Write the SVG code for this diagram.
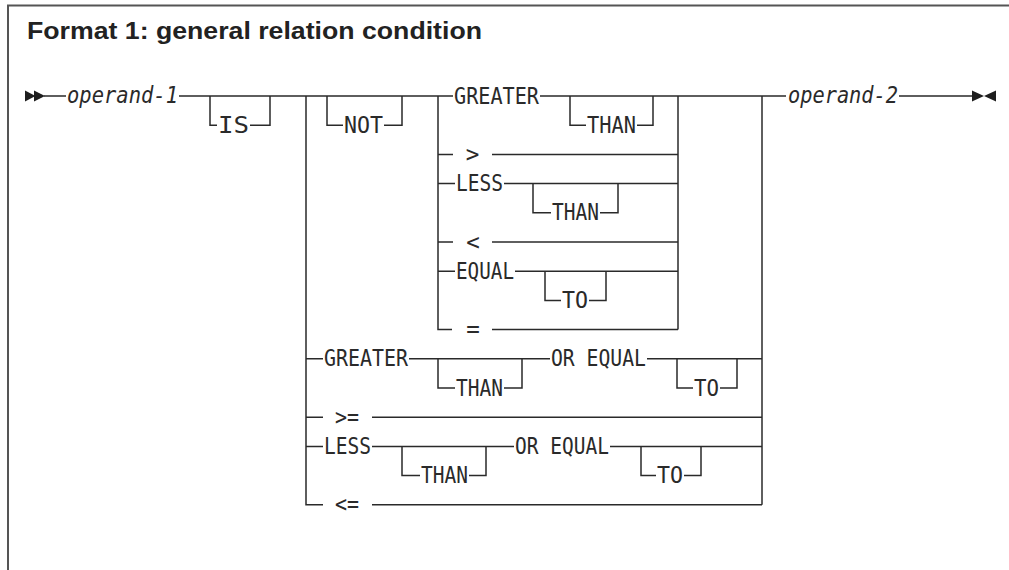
<svg xmlns="http://www.w3.org/2000/svg" width="1009" height="570" viewBox="0 0 1009 570">
<style>
.frame{fill:none;stroke:#555;stroke-width:2}
.ln{fill:none;stroke:#2a2a2a;stroke-width:1.5;stroke-linecap:butt;stroke-linejoin:miter}
.t{font-family:"DejaVu Sans Mono","Liberation Mono",monospace;font-size:22.5px;fill:#2a2a2a}
.it{font-style:italic}
.sym{text-anchor:middle}
.title{font-family:"Liberation Sans",Arial,sans-serif;font-weight:bold;font-size:23.5px;fill:#222}
.arr{fill:#1e1e1e}
</style>
<rect x="0" y="0" width="1009" height="570" fill="#fff"/>
<path class="frame" d="M8 570 V5.5 H1009"/>
<text class="title" x="27" y="39.3" textLength="455" lengthAdjust="spacingAndGlyphs">Format 1: general relation condition</text>

<g id="connectors">
  <polygon class="arr" points="25,90.5 35.5,96 25,101.5"/>
  <polygon class="arr" points="34,90.5 45,96 34,101.5"/>
  <polygon class="arr" points="972,90.5 984,96 972,101.5"/>
  <polygon class="arr" points="996,90.5 984,96 996,101.5"/>
  <path class="ln" d="M44 96 H66 M179 96 H453 M540 96 H786 M899 96 H972"/>
  <path class="ln" d="M210 96 V125.2 H217 M250 125.2 H270 V96"/>
  <path class="ln" d="M327 96 V125.2 H343 M384 125.2 H402 V96"/>
  <path class="ln" d="M306 96 V504.8 H323 M306 358.8 H323 M306 417.2 H323 M306 446.4 H323"/>
  <path class="ln" d="M762 96 V504.8"/>
  <path class="ln" d="M438 96 V329.6 H452 M438 154.4 H453 M438 183.6 H455 M438 242 H453 M438 271.2 H455"/>
  <path class="ln" d="M678 96 V329.6"/>
  <path class="ln" d="M570 96 V125.2 H586 M637 125.2 H653 V96"/>
  <path class="ln" d="M492 154.4 H678"/>
  <path class="ln" d="M504 183.6 H678 M533 183.6 V212.8 H551 M600 212.8 H618 V183.6"/>
  <path class="ln" d="M492 242 H678"/>
  <path class="ln" d="M515 271.2 H678 M545 271.2 V300.4 H561 M589 300.4 H606 V271.2"/>
  <path class="ln" d="M492 329.6 H678"/>
  <path class="ln" d="M409 358.8 H550 M647 358.8 H762 M438 358.8 V388 H455 M504 388 H522 V358.8 M677 358.8 V388 H693 M720 388 H737 V358.8"/>
  <path class="ln" d="M372 417.2 H762"/>
  <path class="ln" d="M372 446.4 H514 M610 446.4 H762 M402 446.4 V475.6 H420 M469 475.6 H486 V446.4 M641 446.4 V475.6 H656 M684 475.6 H701 V446.4"/>
  <path class="ln" d="M372 504.8 H762"/>
</g>

<g id="operand-1"><text class="t it" x="67" y="103" textLength="111" lengthAdjust="spacingAndGlyphs">operand-1</text></g>
<g id="is"><text class="t" x="218" y="132.7" textLength="31" lengthAdjust="spacingAndGlyphs">IS</text></g>
<g id="not"><text class="t" x="344" y="132.7" textLength="39" lengthAdjust="spacingAndGlyphs">NOT</text></g>
<g id="greater-1"><text class="t" x="454" y="103.5" textLength="85" lengthAdjust="spacingAndGlyphs">GREATER</text></g>
<g id="than-1"><text class="t" x="587" y="132.7" textLength="49" lengthAdjust="spacingAndGlyphs">THAN</text></g>
<g id="gt"><text class="t sym" x="472.5" y="161.9">&gt;</text></g>
<g id="less-1"><text class="t" x="456" y="191.1" textLength="47" lengthAdjust="spacingAndGlyphs">LESS</text></g>
<g id="than-2"><text class="t" x="552" y="220.3" textLength="47" lengthAdjust="spacingAndGlyphs">THAN</text></g>
<g id="lt"><text class="t sym" x="473" y="249.5">&lt;</text></g>
<g id="equal"><text class="t" x="456" y="278.7" textLength="58" lengthAdjust="spacingAndGlyphs">EQUAL</text></g>
<g id="to-1"><text class="t" x="562" y="307.9" textLength="26" lengthAdjust="spacingAndGlyphs">TO</text></g>
<g id="eq"><text class="t sym" x="473" y="337.1">=</text></g>
<g id="greater-2"><text class="t" x="324" y="366.3" textLength="84" lengthAdjust="spacingAndGlyphs">GREATER</text></g>
<g id="than-3"><text class="t" x="456" y="395.5" textLength="47" lengthAdjust="spacingAndGlyphs">THAN</text></g>
<g id="or-equal-1"><text class="t" x="551" y="366.3" textLength="95" lengthAdjust="spacingAndGlyphs">OR EQUAL</text></g>
<g id="to-2"><text class="t" x="694" y="395.5" textLength="25" lengthAdjust="spacingAndGlyphs">TO</text></g>
<g id="ge"><text class="t" x="335" y="424.7" textLength="24" lengthAdjust="spacingAndGlyphs">&gt;=</text></g>
<g id="less-2"><text class="t" x="324" y="453.9" textLength="47" lengthAdjust="spacingAndGlyphs">LESS</text></g>
<g id="than-4"><text class="t" x="421" y="483.1" textLength="47" lengthAdjust="spacingAndGlyphs">THAN</text></g>
<g id="or-equal-2"><text class="t" x="515" y="453.9" textLength="94" lengthAdjust="spacingAndGlyphs">OR EQUAL</text></g>
<g id="to-3"><text class="t" x="657" y="483.1" textLength="26" lengthAdjust="spacingAndGlyphs">TO</text></g>
<g id="le"><text class="t" x="335" y="512.3" textLength="24" lengthAdjust="spacingAndGlyphs">&lt;=</text></g>
<g id="operand-2"><text class="t it" x="788" y="103" textLength="110" lengthAdjust="spacingAndGlyphs">operand-2</text></g>
</svg>
